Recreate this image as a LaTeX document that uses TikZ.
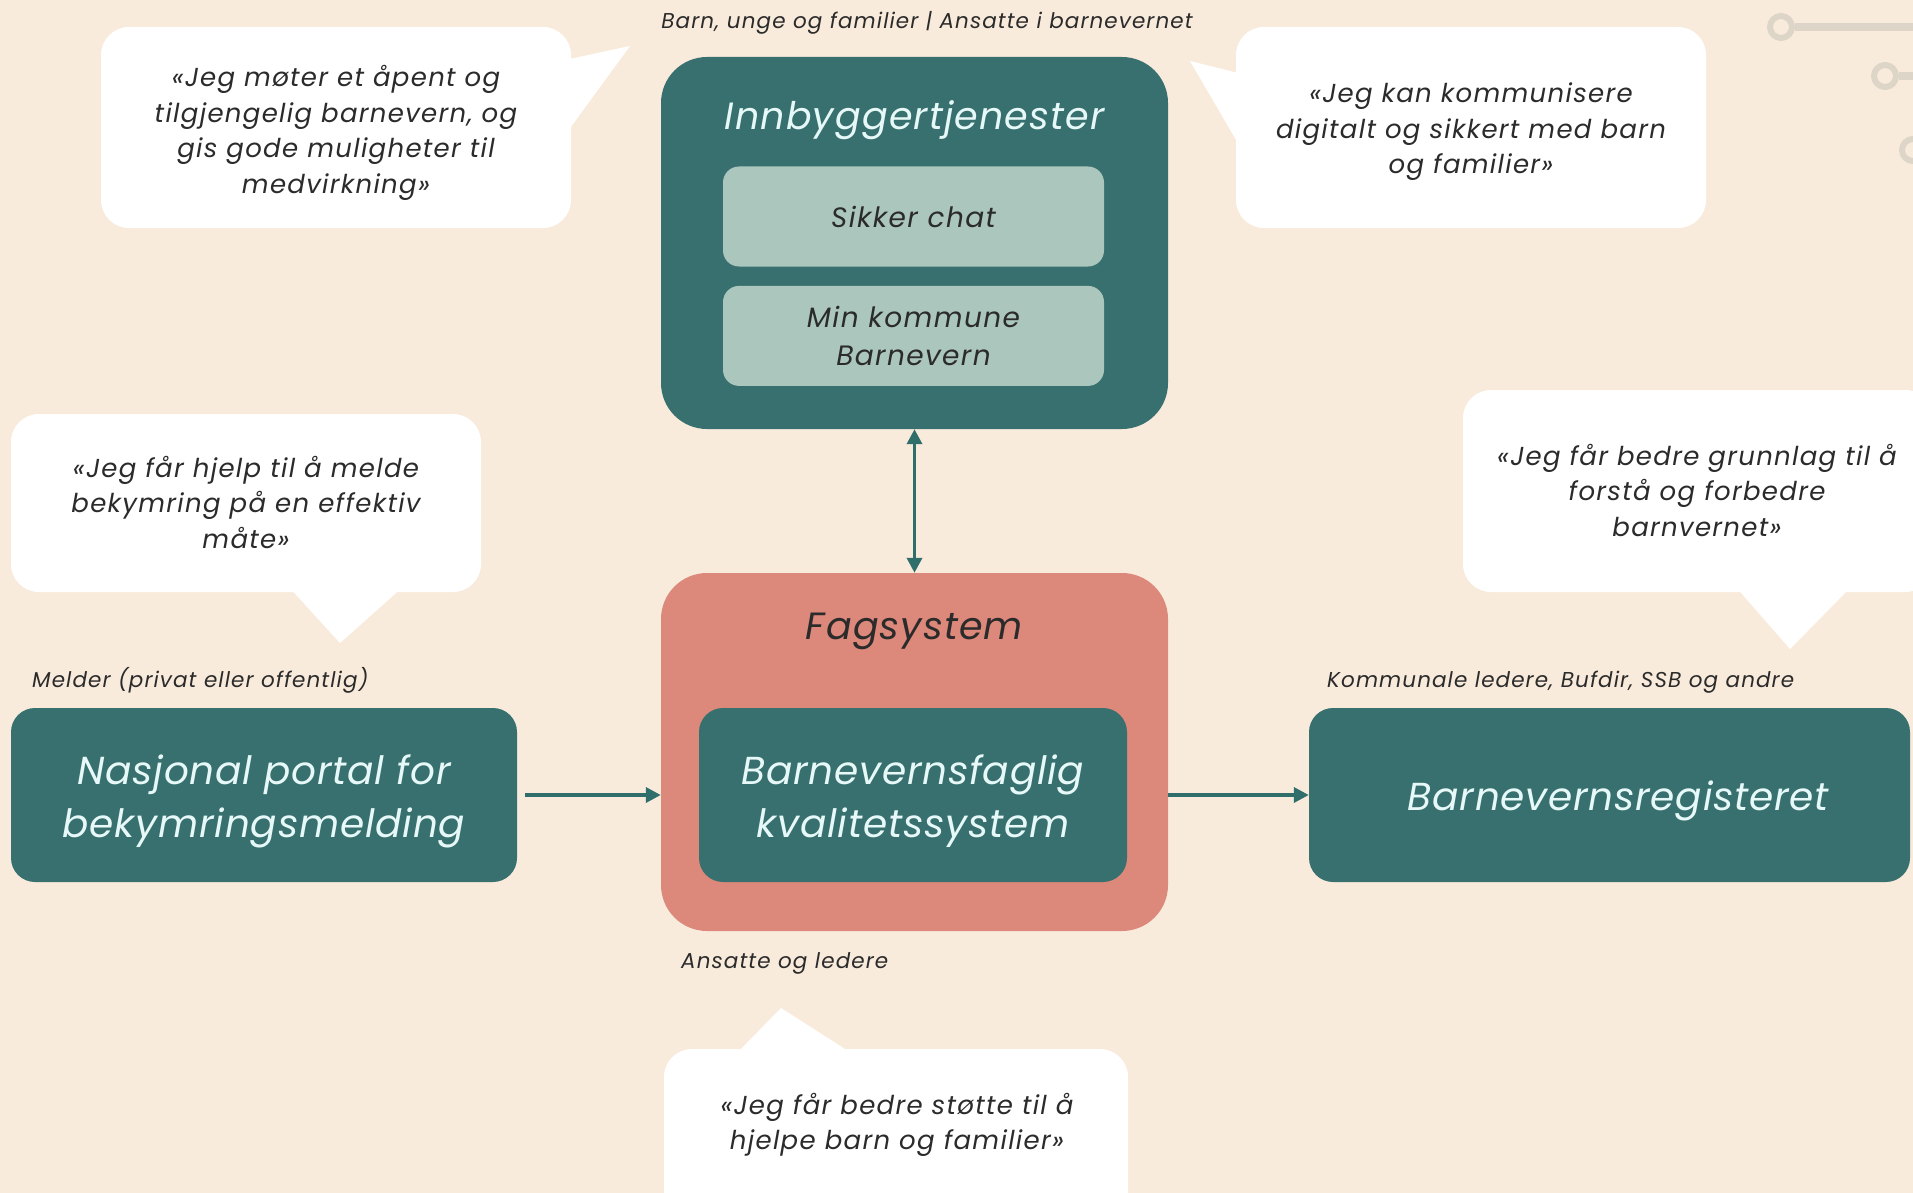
\documentclass[tikz,border=0pt]{standalone}
\usepackage{fontspec}
\setmainfont{Poppins}
\newfontfamily\quotefont{Poppins}[LetterSpace=5]
\newfontfamily\titlefont{Poppins}[LetterSpace=3]
\newfontfamily\boxfont{Poppins}[LetterSpace=2]
\usetikzlibrary{positioning, arrows.meta}

\definecolor{bgcream}{HTML}{F9EBDC}
\definecolor{tealfill}{HTML}{37706E}
\definecolor{tealline}{HTML}{2F6E6A}
\definecolor{sage}{HTML}{AAC6BD}
\definecolor{salmon}{HTML}{DC887A}
\definecolor{paletext}{HTML}{E6F8F7}
\definecolor{darktext}{HTML}{2B2B2B}
\definecolor{circuit}{HTML}{DDD5C8}

% pushes the text of a teal box a little down
\newcommand\tealstrut{\rule{0pt}{42pt}}

\tikzset{
  bubble/.style={fill=white, rounded corners=28pt, align=center, inner sep=0pt,
    text=darktext, font=\quotefont\fontsize{26}{35.5}\selectfont\itshape},
  bigbox/.style={rounded corners=46pt, minimum width=507pt, inner sep=0pt},
  tealbox/.style={fill=tealfill, rounded corners=24pt, align=center, inner sep=0pt,
    minimum height=174pt, text=paletext, font=\boxfont\fontsize{39}{53}\selectfont\itshape},
  sagebox/.style={fill=sage, rounded corners=16pt, align=center, inner sep=0pt,
    minimum width=381pt, minimum height=100pt, text=darktext,
    font=\quotefont\fontsize{28}{38}\selectfont\itshape},
  boxtitle/.style={inner sep=0pt, font=\titlefont\fontsize{38}{42}\selectfont\itshape},
  lbl/.style={inner sep=0pt, text=darktext, font=\quotefont\fontsize{21.5}{24}\selectfont\itshape},
  flow/.style={draw=tealline, line width=3.5pt, -{Triangle[length=15pt, width=15pt]}},
}

\begin{document}
\begin{tikzpicture}[x=1pt, y=-1pt]
   \useasboundingbox (0,0) rectangle (1913,1193);
   \clip (0,0) rectangle (1913,1193);
   \fill[bgcream] (0,0) rectangle (1913,1193);

   % circuit decoration, top right
   \draw[circuit, line width=8pt] (1795,27) -- (1930,27);
   \draw[circuit, line width=8pt] (1899,76) -- (1930,76);
   \foreach \cx/\cy in {1781/27, 1885/76, 1913/150}
      \draw[circuit, line width=6pt] (\cx,\cy) circle (11pt);

   % Citizen services
   \node[bigbox, fill=tealfill, minimum height=372pt] (innb) at (914.5,243) {};
   \node[boxtitle, text=paletext] (innbtitle) at (914.5,120) {Innbyggertjenester};
   \node[sagebox] (chat) at (913.5,216.5) {Sikker chat};
   \node[sagebox] (minkom) [below=19pt of chat] {Min kommune\\Barnevern};

   % Case system
   \node[bigbox, fill=salmon, minimum height=358pt] (fag) at (914.5,752) {};
   \node[boxtitle, text=darktext] (fagtitle) at (914.5,631) {Fagsystem};
   \node[tealbox, minimum width=428pt] (kval) at (913,795) {\tealstrut Barnevernsfaglig\\kvalitetssystem};

   % Side boxes
   \node[tealbox, minimum width=506pt] (portal) at (264,795) {\tealstrut Nasjonal portal for\\bekymringsmelding};
   \node[tealbox, minimum width=601pt] (reg) at (1609.5,795) {\tealstrut\hspace*{18pt}Barnevernsregisteret};

   % Labels
   \node[lbl, anchor=base] (lbltop) at (927,29) {Barn, unge og familier | Ansatte i barnevernet};
   \node[lbl, anchor=base west] (lblmeld) at (32,687) {Melder (privat eller offentlig)};
   \node[lbl, anchor=base west] (lblkomm) at (1327,687) {Kommunale ledere, Bufdir, SSB og andre};
   \node[lbl, anchor=base west] (lblans) at (681,968) {Ansatte og ledere};

   % Speech bubbles
   \fill[white] (565,60) -- (630,46) -- (565,135) -- cycle;
   \node[bubble, minimum width=470pt, minimum height=201pt] (qopen) at (336,127.5) {};
   \node[bubble, fill=none] (qopentxt) at (336,133)
      {«Jeg møter et åpent og\\tilgjengelig barnevern, og\\gis gode muligheter til\\medvirkning»};

   \fill[white] (1242,74) -- (1190,61) -- (1242,150) -- cycle;
   \node[bubble, minimum width=470pt, minimum height=201pt] (qdigital) at (1471,127.5) {};
   \node[bubble, fill=none] (qdigitaltxt) at (1471,132)
      {«Jeg kan kommunisere\\digitalt og sikkert med barn\\og familier»};

   \fill[white] (288,586) -- (340,643) -- (404,586) -- cycle;
   \node[bubble, minimum width=470pt, minimum height=178pt] (qmelde) at (246,503) {};
   \node[bubble, fill=none] (qmeldetxt) at (246,502)
      {«Jeg får hjelp til å melde\\bekymring på en effektiv\\måte»};

   \fill[white] (1735,586) -- (1790,649) -- (1852,586) -- cycle;
   \node[bubble, minimum width=470pt, minimum height=202pt] (qgrunn) at (1698,491) {};
   \node[bubble, fill=none] (qgrunntxt) at (1697,490)
      {«Jeg får bedre grunnlag til å\\forstå og forbedre\\barnvernet»};

   \fill[white] (734,1056) -- (781,1008) -- (856,1056) -- cycle;
   \node[bubble, minimum width=464pt, minimum height=200pt] (qstotte) at (896,1149) {};
   \node[bubble, fill=none] (qstottetxt) at (897,1125)
      {«Jeg får bedre støtte til å\\hjelpe barn og familier»};

   % Connectors
   \draw[flow, {Triangle[length=15pt, width=15pt]}-{Triangle[length=15pt, width=15pt]}] (innb) -- (fag);
   \draw[flow, shorten <=8pt] (portal) -- (portal -| fag.west);
   \draw[flow] (fag.east |- reg) -- (reg);
\end{tikzpicture}
\end{document}
